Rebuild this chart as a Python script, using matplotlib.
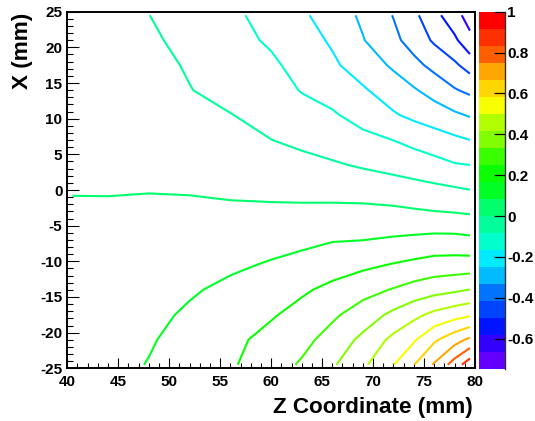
import colorsys
import numpy as np
import matplotlib
matplotlib.use("Agg")
import matplotlib.pyplot as plt
from matplotlib.colors import ListedColormap, BoundaryNorm
from matplotlib.cm import ScalarMappable

plt.rcParams['font.family'] = ['Liberation Sans', 'DejaVu Sans']
plt.rcParams['font.weight'] = 'bold'
plt.rcParams['axes.unicode_minus'] = False

# bin centres of the map (mm)
z_centers = [40.5, 44, 48, 52, 56, 60, 63, 66, 69, 72, 74, 76, 78, 79.5]
x_centers = [24.5, 21, 17.5, 14, 10.5, 7, 3.5, 0, -3.5, -7, -10.5, -14, -17.5, -21, -24.5]

# map values, one row per x centre (top to bottom)
row_p245 = [-0.0417, -0.0625, -0.0825, -0.1167, -0.15, -0.195, -0.2367, -0.2883, -0.3475, -0.42, -0.4817, -0.5558, -0.6375, -0.7]
row_p210 = [-0.0375, -0.0542, -0.0708, -0.105, -0.1392, -0.1775, -0.2167, -0.26, -0.3292, -0.3967, -0.4508, -0.5117, -0.5667, -0.6458]
row_p175 = [-0.0333, -0.0458, -0.0592, -0.0908, -0.1242, -0.1525, -0.1942, -0.2367, -0.2875, -0.3458, -0.3933, -0.44, -0.4858, -0.5333]
row_p140 = [-0.0275, -0.0375, -0.0475, -0.0808, -0.11, -0.1333, -0.1708, -0.2, -0.2408, -0.2908, -0.325, -0.365, -0.41, -0.435]
row_p105 = [-0.0217, -0.0292, -0.0367, -0.0617, -0.0808, -0.1092, -0.1367, -0.1567, -0.1983, -0.2417, -0.2683, -0.2917, -0.32, -0.34]
row_p070 = [-0.0158, -0.0208, -0.025, -0.0425, -0.0575, -0.0825, -0.1, -0.1208, -0.1433, -0.1675, -0.19, -0.2117, -0.2333, -0.2492]
row_p035 = [-0.0092, -0.0117, -0.0133, -0.0233, -0.0358, -0.05, -0.0608, -0.0742, -0.0917, -0.1092, -0.1225, -0.14, -0.1608, -0.1665]
row_000 = [-0.0025, -0.0025, -0.0017, -0.0042, -0.0104, -0.0167, -0.0208, -0.0258, -0.0317, -0.0433, -0.0533, -0.0625, -0.0725, -0.0825]
row_m035 = [0.0083, 0.0075, 0.0108, 0.0156, 0.015, 0.0179, 0.02, 0.025, 0.0275, 0.025, 0.0183, 0.0117, 0.0075, 0.0025]
row_m070 = [0.0167, 0.0167, 0.0242, 0.035, 0.0425, 0.055, 0.0642, 0.0788, 0.0825, 0.0925, 0.1, 0.1083, 0.1083, 0.1008]
row_m105 = [0.025, 0.0267, 0.0371, 0.0542, 0.07, 0.0908, 0.1092, 0.1325, 0.15, 0.1717, 0.1858, 0.2, 0.2033, 0.205]
row_m140 = [0.0317, 0.0358, 0.05, 0.0742, 0.1017, 0.125, 0.1558, 0.1858, 0.2225, 0.2558, 0.2825, 0.3042, 0.32, 0.3358]
row_m175 = [0.0375, 0.045, 0.063, 0.095, 0.1283, 0.1592, 0.1917, 0.2358, 0.2892, 0.3525, 0.3958, 0.4375, 0.4692, 0.4883]
row_m210 = [0.0433, 0.0542, 0.0758, 0.1125, 0.1475, 0.1908, 0.225, 0.2825, 0.3525, 0.4383, 0.49, 0.5708, 0.6342, 0.6842]
row_m245 = [0.0417, 0.0583, 0.0867, 0.1217, 0.1567, 0.2117, 0.26, 0.3225, 0.4008, 0.4975, 0.5808, 0.675, 0.7883, 0.8833]

z_min, z_max = -0.75, 1.0
n_contours = 21
cbar_ticks = [-0.6, -0.4, -0.2, 0, 0.2, 0.4, 0.6, 0.8, 1]
cbar_labels = ["-0.6", "-0.4", "-0.2", "0", "0.2", "0.4", "0.6", "0.8", "1"]
x_ticks = [40, 45, 50, 55, 60, 65, 70, 75, 80]
y_ticks = [-25, -20, -15, -10, -5, 0, 5, 10, 15, 20, 25]

field = np.array([row_p245, row_p210, row_p175, row_p140, row_p105, row_p070, row_p035,
                  row_000, row_m035, row_m070, row_m105, row_m140, row_m175, row_m210, row_m245])

# old ROOT "pretty" palette: 50 hues from violet to red
palette = [colorsys.hls_to_rgb((280 - (i + 1) * 5.6) / 360, 0.5, 1.0) for i in range(50)]
band_colors = [palette[int((k + 0.99) * 50 / n_contours)] for k in range(n_contours)]
bounds = np.linspace(z_min, z_max, n_contours + 1)

fig = plt.figure(figsize=(5.35, 4.21), dpi=100)
W, H = 535, 421
ax = fig.add_axes([67.3 / W, 1 - 368.3 / H, (475 - 67.3) / W, (368.3 - 11.7) / H])

ax.contour(z_centers, x_centers, field, levels=bounds[1:-1],
           colors=band_colors[1:], linewidths=1.5, linestyles='solid')

ax.set_xlim(40, 80)
ax.set_ylim(-25, 25)
ax.set_xticks(x_ticks)
ax.set_xticklabels([str(t) for t in x_ticks])
ax.set_yticks(y_ticks)
ax.set_yticklabels([str(t) for t in y_ticks])
ax.set_xticks(np.arange(40, 81, 1), minor=True)
ax.set_yticks(np.arange(-25, 26, 1), minor=True)
ax.tick_params(axis='x', which='major', direction='in', length=7.2, width=0.8, pad=4.5, labelsize=11)
ax.tick_params(axis='x', which='minor', direction='in', length=3.6, width=0.8)
ax.tick_params(axis='y', which='major', direction='in', length=8.6, width=0.8, pad=3.5, labelsize=11)
ax.tick_params(axis='y', which='minor', direction='in', length=4.3, width=0.8)
for s in ax.spines.values():
    s.set_linewidth(1.4)

fig.text(473 / W, 1 - 412.7 / H, "Z Coordinate (mm)", ha='right', va='baseline',
         fontsize=16.2, fontweight='bold')
fig.text(22.7 / W, 1 - 12.5 / H, "X (mm)", ha='center', va='top', rotation=90,
         fontsize=16.2, fontweight='bold')

# colour scale
cax = fig.add_axes([478.5 / W, 1 - 369.3 / H, 26 / W, 357.6 / H])
sm = ScalarMappable(norm=BoundaryNorm(bounds, n_contours), cmap=ListedColormap(band_colors))
cb = fig.colorbar(sm, cax=cax)
cb.outline.set_visible(False)
cb.set_ticks(cbar_ticks, labels=cbar_labels)
cb.minorticks_off()
cax.tick_params(direction='in', length=8, width=0.9, pad=2, labelsize=11)
cax.axvline(1, color='#333333', lw=1.0, clip_on=False)

fig.savefig("out.png", dpi=100, facecolor='white')
